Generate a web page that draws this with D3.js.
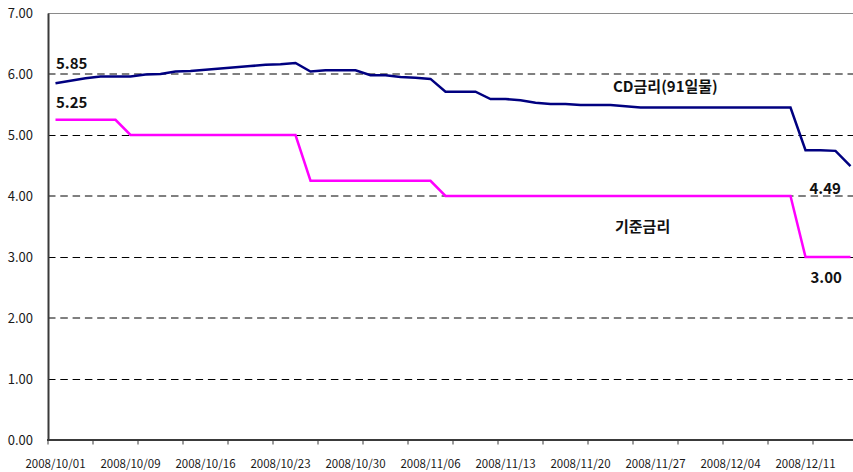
<!DOCTYPE html>
<html>
<head>
<meta charset="utf-8">
<script src="https://cdn.jsdelivr.net/npm/d3@7"></script>
<style>
  html, body { margin: 0; padding: 0; background: #fff; overflow: hidden; }
  svg { display: block; }
  text { font-family: "Noto Sans CJK KR", "Noto Sans", sans-serif; }
</style>
</head>
<body>
<svg id="chart" width="853" height="472"></svg>
<script>
// trading days (Korea), Oct 1 - Dec 16, 2008
const dates = [
  "2008/10/01","2008/10/02","2008/10/06","2008/10/07","2008/10/08","2008/10/09","2008/10/10",
  "2008/10/13","2008/10/14","2008/10/15","2008/10/16","2008/10/17","2008/10/20","2008/10/21",
  "2008/10/22","2008/10/23","2008/10/24","2008/10/27","2008/10/28","2008/10/29","2008/10/30",
  "2008/10/31","2008/11/03","2008/11/04","2008/11/05","2008/11/06","2008/11/07","2008/11/10",
  "2008/11/11","2008/11/12","2008/11/13","2008/11/14","2008/11/17","2008/11/18","2008/11/19",
  "2008/11/20","2008/11/21","2008/11/24","2008/11/25","2008/11/26","2008/11/27","2008/11/28",
  "2008/12/01","2008/12/02","2008/12/03","2008/12/04","2008/12/05","2008/12/08","2008/12/09",
  "2008/12/10","2008/12/11","2008/12/12","2008/12/15","2008/12/16"
];
// CD rate (91-day)
const cdRate = [
  5.85,5.89,5.93,5.96,5.96,5.96,5.99,
  6.00,6.04,6.05,6.07,6.09,6.11,6.13,
  6.15,6.16,6.18,6.04,6.06,6.06,6.06,
  5.98,5.98,5.95,5.94,5.92,5.71,5.71,
  5.71,5.59,5.59,5.57,5.53,5.51,5.51,
  5.49,5.49,5.49,5.47,5.45,5.45,5.45,
  5.45,5.45,5.45,5.45,5.45,5.45,5.45,
  5.45,4.75,4.75,4.74,4.49
];
// Base rate
const baseRate = [
  5.25,5.25,5.25,5.25,5.25,5.00,5.00,
  5.00,5.00,5.00,5.00,5.00,5.00,5.00,
  5.00,5.00,5.00,4.25,4.25,4.25,4.25,
  4.25,4.25,4.25,4.25,4.25,4.00,4.00,
  4.00,4.00,4.00,4.00,4.00,4.00,4.00,
  4.00,4.00,4.00,4.00,4.00,4.00,4.00,
  4.00,4.00,4.00,4.00,4.00,4.00,4.00,
  4.00,3.00,3.00,3.00,3.00
];
const yTicks = [0,1,2,3,4,5,6,7];
const labelEvery = 5;   // category label interval
const tickEvery = 3;    // tick mark interval
const seriesNames = ["CD금리(91일물)", "기준금리"];
const annotations = [
  {text: "5.85", series: 0, idx: 0},
  {text: "5.25", series: 1, idx: 0},
  {text: "4.49", series: 0, idx: 53},
  {text: "3.00", series: 1, idx: 53}
];

(function () {
const svg = d3.select("#chart");
const pLeft = 48, pTop = 13, pBottom = 440, bandW = 15;
const pRight = pLeft + bandW * dates.length;

const x = d3.scaleBand().domain(dates).range([pLeft, pRight]).paddingInner(0).paddingOuter(0);
const y = d3.scaleLinear().domain([0, 7]).range([pBottom, pTop]);
const cx = d => x(d) + x.bandwidth() / 2;

// gridlines
svg.append("g").selectAll("line")
  .data(yTicks.filter(v => v > 0 && v < 7))
  .join("line")
  .attr("x1", pLeft).attr("x2", 853)
  .attr("y1", d => y(d) + (d % 2 ? 0.5 : 0)).attr("y2", d => y(d) + (d % 2 ? 0.5 : 0))
  .attr("stroke", "#000").attr("stroke-width", 1)
  .attr("stroke-dasharray", "7.5,4.8");

// top border
svg.append("line")
  .attr("x1", pLeft).attr("x2", 853)
  .attr("y1", y(7) + 0.5).attr("y2", y(7) + 0.5)
  .attr("stroke", "#8a8a8a").attr("stroke-width", 1);

// y axis
const yAxis = d3.axisLeft(y).tickValues(yTicks).tickFormat(d3.format(".2f")).tickSize(0).tickPadding(15);
const gy = svg.append("g").attr("transform", `translate(${pLeft},0)`).call(yAxis);
gy.select(".domain").attr("stroke", "#3a3a3a").attr("stroke-width", 2);
gy.selectAll("text").attr("font-size", 13).attr("fill", "#1a1a1a")
  .attr("font-family", "'Noto Sans CJK KR', 'Noto Sans', sans-serif");

// x axis
const tickPositions = d3.range(0, dates.length + 1, tickEvery).map(i => pLeft + i * bandW);
const gx = svg.append("g");
gx.append("line").attr("x1", pLeft - 1).attr("x2", 853)
  .attr("y1", pBottom).attr("y2", pBottom)
  .attr("stroke", "#3a3a3a").attr("stroke-width", 2);
gx.selectAll("line.tick").data(tickPositions).join("line")
  .attr("class", "tick")
  .attr("x1", d => d).attr("x2", d => d)
  .attr("y1", pBottom).attr("y2", pBottom + 4.5)
  .attr("stroke", "#3a3a3a").attr("stroke-width", 1);
gx.selectAll("text").data(dates.filter((d, i) => i % labelEvery === 0)).join("text")
  .attr("x", d => cx(d)).attr("y", 468)
  .attr("text-anchor", "middle")
  .attr("font-size", 11.5).attr("fill", "#1a1a1a")
  .text(d => d);

// lines
const line = d3.line().x((d, i) => cx(dates[i])).y(d => y(d));
svg.append("path").datum(baseRate)
  .attr("d", line).attr("fill", "none")
  .attr("stroke", "#ff00ff").attr("stroke-width", 2.5).attr("stroke-linejoin", "miter");
svg.append("path").datum(cdRate)
  .attr("d", line).attr("fill", "none")
  .attr("stroke", "#000080").attr("stroke-width", 2.5).attr("stroke-linejoin", "miter");

// annotations
const annPos = [
  {dx: 0.5, dy: -14},
  {dx: 0.5, dy: -12},
  {dx: -41, dy: 28},
  {dx: -40, dy: 26}
];
svg.append("g").selectAll("text").data(annotations).join("text")
  .attr("x", (d, i) => cx(dates[d.idx]) + annPos[i].dx)
  .attr("y", (d, i) => y((d.series === 0 ? cdRate : baseRate)[d.idx]) + annPos[i].dy)
  .attr("font-size", 15).attr("font-weight", "bold").attr("fill", "#111")
  .text(d => d.text);

svg.append("text").attr("x", 613).attr("y", 92)
  .attr("font-size", 15).attr("font-weight", "bold").attr("fill", "#111")
  .text(seriesNames[0]);
svg.append("text").attr("x", 615).attr("y", 232)
  .attr("font-size", 15).attr("font-weight", "bold").attr("fill", "#111")
  .text(seriesNames[1]);
})();
</script>
</body>
</html>
